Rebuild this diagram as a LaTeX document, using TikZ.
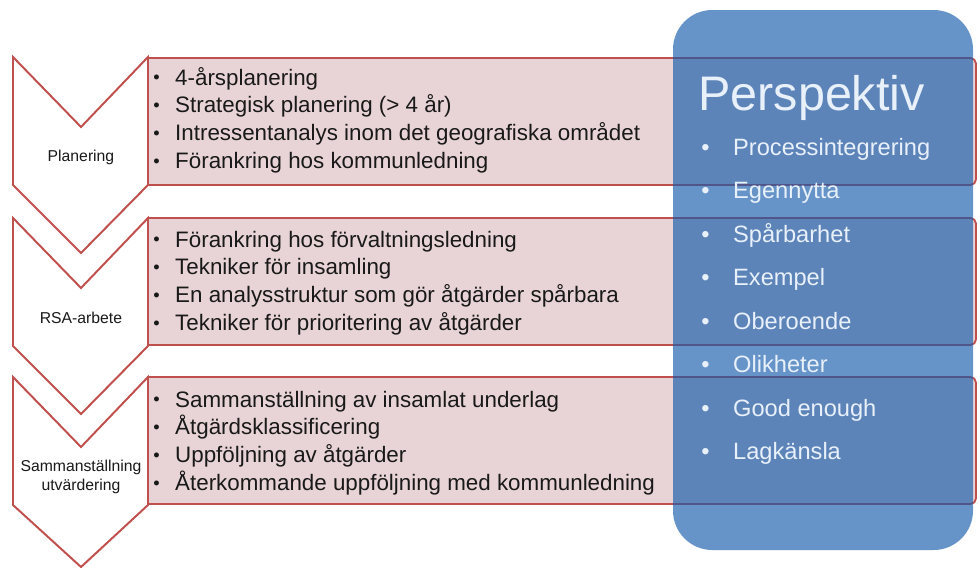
\documentclass[tikz,border=0pt]{standalone}
\usepackage{fontspec}
\setmainfont{Liberation Sans}
\usepackage{tikz}

\definecolor{rsared}{RGB}{192,80,77}
\definecolor{rsapink}{RGB}{232,212,214}
\definecolor{boxblue}{RGB}{20,90,170}
\definecolor{perspwhite}{RGB}{232,240,250}
\definecolor{itemblack}{RGB}{25,25,25}

\newcommand{\bul}{\makebox[15.6pt][l]{\raisebox{0.8pt}{\fontsize{13}{13}\selectfont\textbullet}}}
\newcommand{\pbul}{\makebox[22.7pt][l]{\textbullet}}

\tikzset{
  chevron/.style={draw=rsared, line width=1.4pt, fill=white, line join=miter},
  stagebox/.style={draw=rsared, line width=1.3pt, fill=rsapink},
  stagelabel/.style={align=center, inner sep=0pt, text=itemblack,
    font=\fontsize{11.2}{14}\selectfont},
  item/.style={anchor=base west, inner sep=0pt, text=itemblack,
    font=\fontsize{15.9}{18}\selectfont},
  perspitem/.style={anchor=base west, inner sep=0pt, text=perspwhite,
    font=\fontsize{16.8}{20}\selectfont},
}

\begin{document}
\begin{tikzpicture}[x=0.025cm, y=-0.025cm]
  \useasboundingbox (0,0) rectangle (980,567);
  % stage boxes
  \foreach \t in {58, 218, 377}
    \draw[stagebox] (560,\t) [rounded corners=4pt] -- (976,\t) -- (976,\t+127)
      -- (560,\t+127) [sharp corners] -- (148,\t+127) -- (148,\t) -- cycle;
  % chevrons
  \foreach \t/\d in {57/68, 218/68, 377/62}
    \draw[chevron] (13,\t) -- (81,\t+70) -- (148,\t) -- (148,\t+128)
      -- (81,\t+128+\d) -- (13,\t+128) -- cycle;
  \node[stagelabel] (planlabel) at (81,157) {Planering};
  \node[stagelabel] (rsalabel) at (81,318) {RSA-arbete};
  \node[stagelabel] (sammanlabel) at (81,477) {Sammanställning\\utvärdering};
  % items
  \foreach \txt [count=\i] in {4-årsplanering, Strategisk planering (> 4 år),
      Intressentanalys inom det geografiska området, Förankring hos kommunledning}
    \node[item] (plan-\i) at (153, 85+27.8*\i-27.8) {\bul\txt};
  \foreach \txt [count=\i] in {Förankring hos förvaltningsledning, Tekniker för insamling,
      En analysstruktur som gör åtgärder spårbara, Tekniker för prioritering av åtgärder}
    \node[item] (rsa-\i) at (153, 247+27.8*\i-27.8) {\bul\txt};
  \foreach \txt [count=\i] in {Sammanställning av insamlat underlag, Åtgärdsklassificering,
      Uppföljning av åtgärder, Återkommande uppföljning med kommunledning}
    \node[item] (samman-\i) at (153, 407+27.8*\i-27.8) {\bul\txt};
  % perspective box
  \fill[boxblue, fill opacity=0.65, rounded corners=28pt] (673,10) rectangle (973,550);
  \node[anchor=base west, inner sep=0pt, text=perspwhite,
    font=\fontsize{34.5}{40}\selectfont] (persptitle) at (698,110) {Perspektiv};
  \foreach \txt [count=\i] in {Processintegrering, Egennytta, Spårbarhet, Exempel,
      Oberoende, Olikheter, Good enough, Lagkänsla}
    \node[perspitem] (persp-\i) at (701, 155+43.5*\i-43.5) {\pbul\txt};
\end{tikzpicture}
\end{document}
